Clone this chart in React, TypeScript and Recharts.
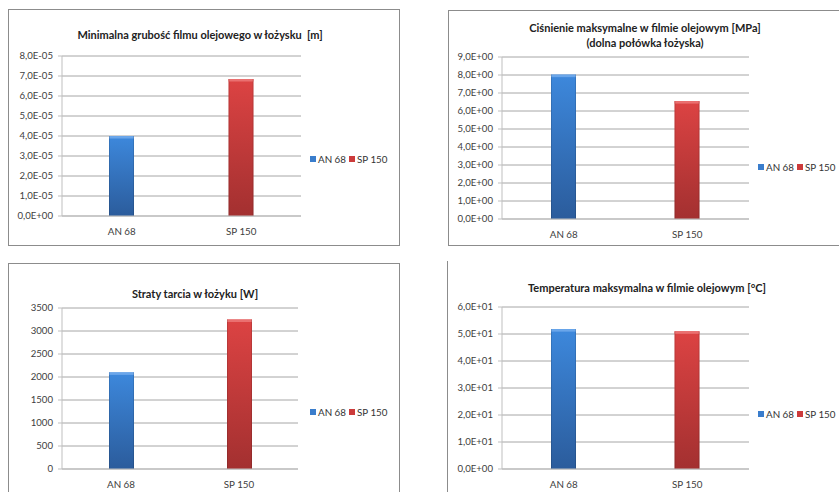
import { BarChart, Bar, XAxis, YAxis, CartesianGrid, Cell, Legend } from 'recharts';

const categories = ['AN 68', 'SP 150'];

const filmThickness = [4.0e-5, 6.85e-5];
const maxPressure = [8.02, 6.55];
const frictionLoss = [2100, 3250];
const maxTemperature = [51.8, 51.0];

const filmTicks = [0, 1e-5, 2e-5, 3e-5, 4e-5, 5e-5, 6e-5, 7e-5, 8e-5];
const pressureTicks = [0, 1, 2, 3, 4, 5, 6, 7, 8, 9];
const lossTicks = [0, 500, 1000, 1500, 2000, 2500, 3000, 3500];
const tempTicks = [0, 10, 20, 30, 40, 50, 60];

const FONT = 'Lato, "Open Sans", sans-serif';
const GRID = '#a6a6a6';
const AXIS = '#bfbfbf';
const PLOT_EDGE = '#b9cde5';
const FRAME = '#8c8c8c';

// Excel style "8,0E-05"
function expFormat(v: number) {
    if (v === 0) return '0,0E+00';
    const exp = Math.floor(Math.log10(Math.abs(v)) + 1e-9);
    const mant = v / Math.pow(10, exp);
    const sign = exp < 0 ? '-' : '+';
    const e = String(Math.abs(exp)).padStart(2, '0');
    return `${mant.toFixed(1).replace('.', ',')}E${sign}${e}`;
}

const plain = (v: number) => String(v);

function BarShape(props: any) {
    const { x, y, width, height, fill, index } = props;
    if (!height || height <= 0) return null;
    const cap = index === 0 ? '#6aa6ea' : '#ea7070';
    return (
        <g>
            <rect x={x} y={y} width={width} height={height} fill={fill} />
            <rect x={x} y={y} width={width} height={2.5} fill={cap} />
            <rect x={x} y={y} width={1} height={height} fill="rgba(0,0,0,0.12)" />
            <rect x={x + width - 1} y={y} width={1} height={height} fill="rgba(0,0,0,0.12)" />
        </g>
    );
}

function LegendBox() {
    const colors = ['#3a7dcc', '#cc3b3b'];
    return (
        <div style={{ display: 'flex', alignItems: 'center', fontFamily: FONT, fontSize: 9.8, color: '#333', whiteSpace: 'nowrap' }}>
            {categories.map((c, i) => (
                <span key={c} style={{ display: 'inline-flex', alignItems: 'center', marginRight: 3 }}>
                    <span style={{ width: 6, height: 6, background: colors[i], display: 'inline-block', marginRight: 2 }} />
                    {c}
                </span>
            ))}
        </div>
    );
}

type PanelProps = {
    id: string;
    values: number[];
    ticks: number[];
    fmt: (v: number) => string;
    box: { x: number; y: number; w: number; h: number };
    plot: { x: number; y: number; w: number; h: number };
    legend: { x: number; y: number };
};

function Panel({ id, values, ticks, fmt, box, plot, legend }: PanelProps) {
    const data = categories.map((name, i) => ({ name, value: values[i] }));
    const yAxisWidth = plot.x - box.x;
    const xAxisHeight = 20;
    const margin = {
        top: plot.y - box.y,
        right: box.x + box.w - (plot.x + plot.w),
        bottom: box.y + box.h - (plot.y + plot.h) - xAxisHeight,
        left: 0,
    };
    const max = ticks[ticks.length - 1];
    return (
        <div style={{ position: 'absolute', left: box.x, top: box.y }}>
            <BarChart width={box.w} height={box.h} data={data} margin={margin}>
                <defs>
                    <linearGradient id={`${id}-blue`} x1="0" y1="0" x2="0" y2="1">
                        <stop offset="0%" stopColor="#3d88dc" />
                        <stop offset="100%" stopColor="#2b5c9c" />
                    </linearGradient>
                    <linearGradient id={`${id}-red`} x1="0" y1="0" x2="0" y2="1">
                        <stop offset="0%" stopColor="#dc4343" />
                        <stop offset="100%" stopColor="#a33030" />
                    </linearGradient>
                </defs>
                <CartesianGrid vertical={false} stroke={GRID} />
                <XAxis
                    dataKey="name"
                    height={xAxisHeight}
                    axisLine={{ stroke: AXIS }}
                    tickLine={false}
                    tick={{ fill: '#404040', fontSize: 9.8, fontFamily: FONT }}
                    tickMargin={6}
                />
                <XAxis xAxisId="top" dataKey="name" orientation="top" height={0} tick={false} tickLine={false} axisLine={{ stroke: PLOT_EDGE }} />
                <YAxis
                    width={yAxisWidth}
                    domain={[0, max]}
                    ticks={ticks}
                    interval={0}
                    tickFormatter={fmt}
                    axisLine={{ stroke: AXIS }}
                    tickLine={{ stroke: AXIS }}
                    tickSize={4}
                    tickMargin={5}
                    tick={{ fill: '#404040', fontSize: 9.6, fontFamily: FONT }}
                />
                <YAxis yAxisId="right" orientation="right" width={0} domain={[0, max]} tick={false} tickLine={false} axisLine={{ stroke: PLOT_EDGE }} />
                <Legend
                    layout="horizontal"
                    verticalAlign="middle"
                    align="center"
                    content={() => <LegendBox />}
                    wrapperStyle={{ left: legend.x - box.x, top: legend.y - box.y - 7, width: 'auto', bottom: 'auto' }}
                />
                <Bar dataKey="value" barSize={25} isAnimationActive={false} shape={BarShape} legendType="square">
                    {data.map((d, i) => (
                        <Cell key={d.name} fill={i === 0 ? `url(#${id}-blue)` : `url(#${id}-red)`} />
                    ))}
                </Bar>
            </BarChart>
        </div>
    );
}

const titleStyle = {
    position: 'absolute' as const,
    fontFamily: FONT,
    fontWeight: 700,
    fontSize: 11,
    color: '#222',
    textAlign: 'center' as const,
    whiteSpace: 'nowrap' as const,
    lineHeight: '15px',
    transform: 'translateX(-50%)',
};

export default function App() {
    return (
        <div style={{ position: 'absolute', left: 0, top: 0, width: 839, height: 492, overflow: 'hidden', background: '#fff' }}>
            {/* frames */}
            <div style={{ position: 'absolute', left: 8, top: 9, width: 390, height: 235, border: `1px solid ${FRAME}` }} />
            <div style={{ position: 'absolute', left: 448, top: 10, width: 420, height: 234, borderLeft: `1px solid ${FRAME}`, borderTop: `1px solid ${FRAME}`, borderBottom: `1px solid ${FRAME}` }} />
            <div style={{ position: 'absolute', left: 8, top: 263, width: 390, height: 260, border: `1px solid ${FRAME}` }} />
            <div style={{ position: 'absolute', left: 447, top: 261, width: 420, height: 260, borderLeft: `1px solid ${FRAME}` }} />

            {/* titles */}
            <div style={{ ...titleStyle, left: 200, top: 27 }}>Minimalna grubość filmu olejowego w łożysku&nbsp;&nbsp;[m]</div>
            <div style={{ ...titleStyle, left: 645, top: 20 }}>
                Ciśnienie maksymalne w filmie olejowym [MPa]
                <br />
                (dolna połówka łożyska)
            </div>
            <div style={{ ...titleStyle, left: 195, top: 286 }}>Straty tarcia w łożyku [W]</div>
            <div style={{ ...titleStyle, left: 647, top: 280 }}>Temperatura maksymalna w filmie olejowym [°C]</div>

            <Panel
                id="c1"
                values={filmThickness}
                ticks={filmTicks}
                fmt={expFormat}
                box={{ x: 10, y: 48, w: 385, h: 192 }}
                plot={{ x: 62, y: 56, w: 239, h: 160 }}
                legend={{ x: 310, y: 160 }}
            />
            <Panel
                id="c2"
                values={maxPressure}
                ticks={pressureTicks}
                fmt={expFormat}
                box={{ x: 450, y: 49, w: 385, h: 194 }}
                plot={{ x: 502, y: 57, w: 247, h: 162 }}
                legend={{ x: 758, y: 168 }}
            />
            <Panel
                id="c3"
                values={frictionLoss}
                ticks={lossTicks}
                fmt={plain}
                box={{ x: 10, y: 300, w: 385, h: 192 }}
                plot={{ x: 62, y: 308, w: 236, h: 161 }}
                legend={{ x: 310, y: 413 }}
            />
            <Panel
                id="c4"
                values={maxTemperature}
                ticks={tempTicks}
                fmt={expFormat}
                box={{ x: 450, y: 299, w: 385, h: 193 }}
                plot={{ x: 502, y: 307, w: 247, h: 162 }}
                legend={{ x: 758, y: 415 }}
            />
        </div>
    );
}
